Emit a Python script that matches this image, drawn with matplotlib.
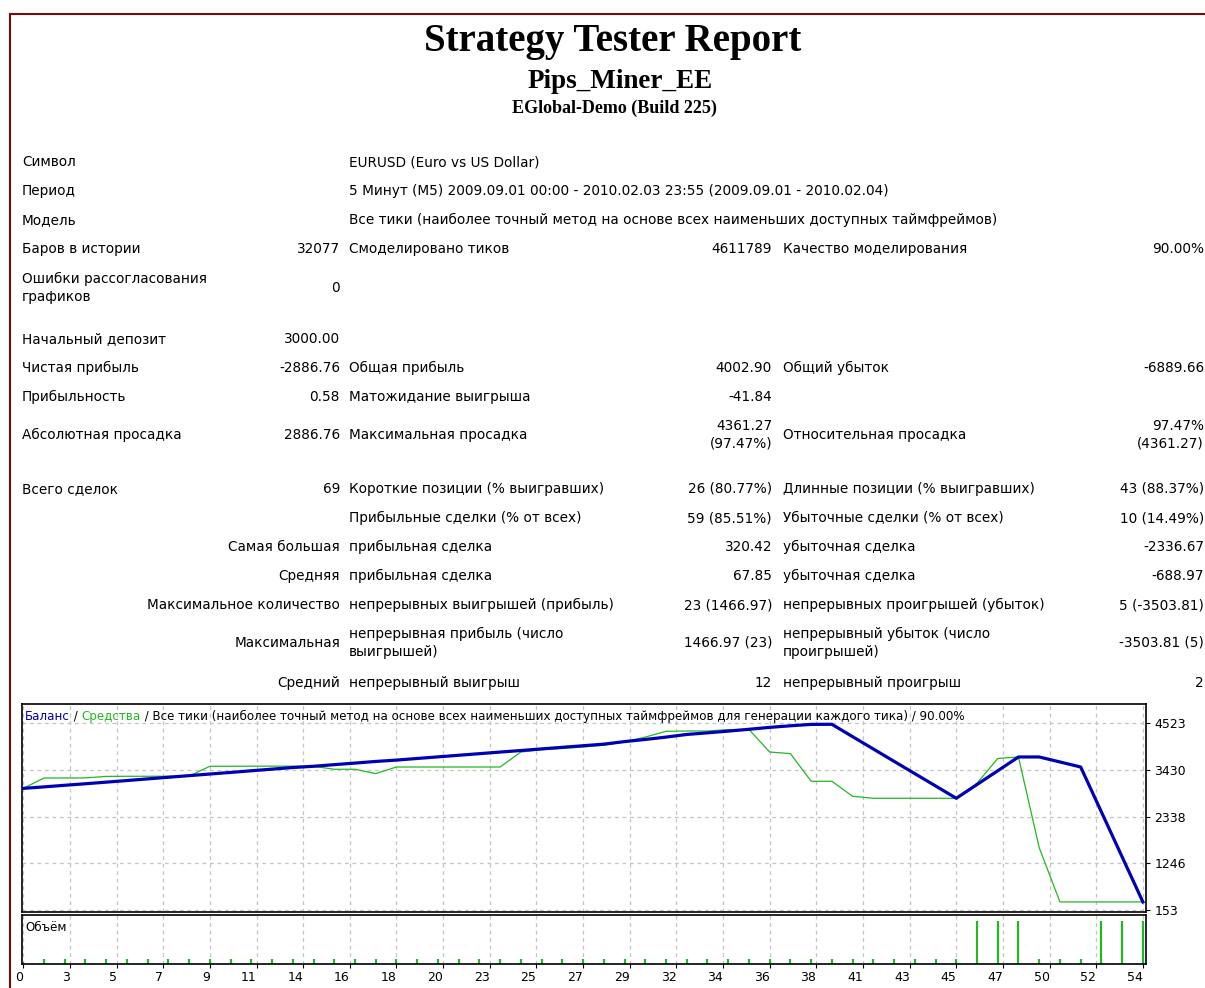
import numpy as np
import matplotlib.pyplot as plt
from matplotlib.lines import Line2D
from matplotlib import transforms

# report header
title = "Strategy Tester Report"
expert = "Pips_Miner_EE"
server = "EGlobal-Demo (Build 225)"

# balance / equity per trade number
balance = [3000, 3035, 3072, 3108, 3146, 3183, 3222, 3260, 3298, 3336,
           3373, 3412, 3450, 3488, 3517, 3555, 3592, 3630, 3662, 3700,
           3737, 3775, 3812, 3850, 3886, 3924, 3961, 3998, 4035, 4095,
           4145, 4200, 4262, 4300, 4340, 4383, 4428, 4465, 4498, 4500,
           4210, 3922, 3633, 3345, 3057, 2768, 3090, 3412, 3735, 3735,
           3618, 3500, 2448, 1395, 342]
equity = [3000, 3243, 3243, 3245, 3280, 3283, 3283, 3285, 3287, 3517,
          3517, 3520, 3520, 3520, 3517, 3447, 3447, 3346, 3500, 3500,
          3500, 3500, 3500, 3500, 3851, 3905, 3935, 3968, 4010, 4088,
          4200, 4336, 4343, 4343, 4376, 4380, 3851, 3814, 3166, 3166,
          2815, 2768, 2768, 2768, 2768, 2768, 3120, 3700, 3735, 1610,
          342, 342, 342, 342, 342]
volume = [0] + [0.1] * 45 + [1.3, 1.3, 1.3, 0.1, 0.1, 0.1, 1.3, 1.3, 1.3]

x_tick_labels = ['0', '3', '5', '7', '9', '11', '14', '16', '18', '20', '23',
                 '25', '27', '29', '32', '34', '36', '38', '41', '43', '45',
                 '47', '50', '52', '54']
y_ticks = [4523, 3430, 2338, 1246, 153]

# report table: (y, [(x, text, ha), ...])
rows = [
    (162, [(22, "Символ", 'left'), (349, "EURUSD (Euro vs US Dollar)", 'left')]),
    (191, [(22, "Период", 'left'),
           (349, "5 Минут (M5) 2009.09.01 00:00 - 2010.02.03 23:55 (2009.09.01 - 2010.02.04)", 'left')]),
    (220, [(22, "Модель", 'left'),
           (349, "Все тики (наиболее точный метод на основе всех наименьших доступных таймфреймов)", 'left')]),
    (249, [(22, "Баров в истории", 'left'), (340, "32077", 'right'),
           (349, "Смоделировано тиков", 'left'), (772, "4611789", 'right'),
           (783, "Качество моделирования", 'left'), (1204, "90.00%", 'right')]),
    (288, [(22, "Ошибки рассогласования\nграфиков", 'left'), (340, "0", 'right')]),
    (339, [(22, "Начальный депозит", 'left'), (340, "3000.00", 'right')]),
    (368, [(22, "Чистая прибыль", 'left'), (340, "-2886.76", 'right'),
           (349, "Общая прибыль", 'left'), (772, "4002.90", 'right'),
           (783, "Общий убыток", 'left'), (1204, "-6889.66", 'right')]),
    (397, [(22, "Прибыльность", 'left'), (340, "0.58", 'right'),
           (349, "Матожидание выигрыша", 'left'), (772, "-41.84", 'right')]),
    (435, [(22, "Абсолютная просадка", 'left'), (340, "2886.76", 'right'),
           (349, "Максимальная просадка", 'left'), (772, "4361.27\n(97.47%)", 'right'),
           (783, "Относительная просадка", 'left'), (1204, "97.47%\n(4361.27)", 'right')]),
    (489, [(22, "Всего сделок", 'left'), (340, "69", 'right'),
           (349, "Короткие позиции (% выигравших)", 'left'), (772, "26 (80.77%)", 'right'),
           (783, "Длинные позиции (% выигравших)", 'left'), (1204, "43 (88.37%)", 'right')]),
    (518, [(349, "Прибыльные сделки (% от всех)", 'left'), (772, "59 (85.51%)", 'right'),
           (783, "Убыточные сделки (% от всех)", 'left'), (1204, "10 (14.49%)", 'right')]),
    (547, [(340, "Самая большая", 'right'), (349, "прибыльная сделка", 'left'),
           (772, "320.42", 'right'), (783, "убыточная сделка", 'left'),
           (1204, "-2336.67", 'right')]),
    (576, [(340, "Средняя", 'right'), (349, "прибыльная сделка", 'left'),
           (772, "67.85", 'right'), (783, "убыточная сделка", 'left'),
           (1204, "-688.97", 'right')]),
    (605, [(340, "Максимальное количество", 'right'),
           (349, "непрерывных выигрышей (прибыль)", 'left'), (772, "23 (1466.97)", 'right'),
           (783, "непрерывных проигрышей (убыток)", 'left'), (1204, "5 (-3503.81)", 'right')]),
    (643, [(340, "Максимальная", 'right'),
           (349, "непрерывная прибыль (число\nвыигрышей)", 'left'), (772, "1466.97 (23)", 'right'),
           (783, "непрерывный убыток (число\nпроигрышей)", 'left'), (1204, "-3503.81 (5)", 'right')]),
    (683, [(340, "Средний", 'right'), (349, "непрерывный выигрыш", 'left'),
           (772, "12", 'right'), (783, "непрерывный проигрыш", 'left'), (1204, "2", 'right')]),
]

W, H = 1205, 988


def fx(x):
    return x / W


def fy(y):
    return 1 - y / H


plt.rcParams['font.family'] = ['DejaVu Sans']
fig = plt.figure(figsize=(W / 100, H / 100), dpi=100)

border = '#7a0a0a'
fig.add_artist(Line2D([fx(10), 1], [fy(14), fy(14)], color=border, lw=1.5))
fig.add_artist(Line2D([fx(10), fx(10)], [fy(14), 0], color=border, lw=1.5))

serif = ['Liberation Serif', 'DejaVu Serif']
fig.text(fx(613), fy(41), title, ha='center', va='center', family=serif,
         weight='bold', size=28)
fig.text(fx(620), fy(81), expert, ha='center', va='center', family=serif,
         weight='bold', size=19.5)
fig.text(fx(614), fy(108), server, ha='center', va='center', family=serif,
         weight='bold', size=13)

for y, cells in rows:
    for x, txt, ha in cells:
        fig.text(fx(x), fy(y), txt, ha=ha, va='center', size=9.8,
                 linespacing=1.35)

# chart panels
blue = '#0000b4'
green = '#22b822'
grid_kw = dict(color='#c4c4c4', linestyle=(0, (3, 3)), linewidth=0.9)

trades = np.arange(len(balance))
x_ticks = np.linspace(0, 54, len(x_tick_labels))

ax = fig.add_axes([fx(22), fy(912), (1146 - 22) / W, (912 - 704) / H])
ax.plot(trades, equity, color=green, lw=0.9, zorder=3)
ax.plot(trades, balance, color=blue, lw=2.3, zorder=4)
ax.set_xlim(-0.06, 54.15)
ax.set_ylim(106, 4975)
ax.set_xticks(x_ticks)
ax.set_yticks(y_ticks)
ax.tick_params(axis='x', length=0, labelbottom=False)
ax.yaxis.tick_right()
ax.tick_params(axis='y', length=3, width=0.8, pad=3, labelsize=9)
ax.grid(True, **grid_kw)
for s in ax.spines.values():
    s.set_linewidth(1.2)

t1 = ax.text(0.003, 0.94, "Баланс", color=blue, transform=ax.transAxes,
             ha='left', va='center', size=8.6)
t2 = ax.annotate(" / ", xy=(1, 0), xycoords=t1, va='bottom', size=8.6)
t3 = ax.annotate("Средства", xy=(1, 0), xycoords=t2, va='bottom', size=8.6,
                 color=green)
ax.annotate(" / Все тики (наиболее точный метод на основе всех наименьших доступных "
            "таймфреймов для генерации каждого тика) / 90.00%",
            xy=(1, 0), xycoords=t3, va='bottom', size=8.6)

vax = fig.add_axes([fx(22), fy(964), (1146 - 22) / W, (964 - 914.5) / H])
vax.vlines(trades, -0.05, volume, color=green, lw=1.6)
vax.set_xlim(-0.06, 54.15)
vax.set_ylim(-0.05, 1.5)
vax.set_yticks([])
vax.set_xticks(x_ticks)
vax.set_xticklabels(x_tick_labels, ha='right')
shift = transforms.ScaledTranslation(3 / 100, 0, fig.dpi_scale_trans)
for lab in vax.get_xticklabels():
    lab.set_transform(lab.get_transform() + shift)
vax.tick_params(axis='x', length=3, width=0.8, pad=2, labelsize=9)
vax.grid(True, axis='x', **grid_kw)
for s in vax.spines.values():
    s.set_linewidth(1.2)
vax.text(0.003, 0.74, "Объём", transform=vax.transAxes, ha='left',
         va='center', size=8.6)

fig.savefig('out.png', dpi=100)
